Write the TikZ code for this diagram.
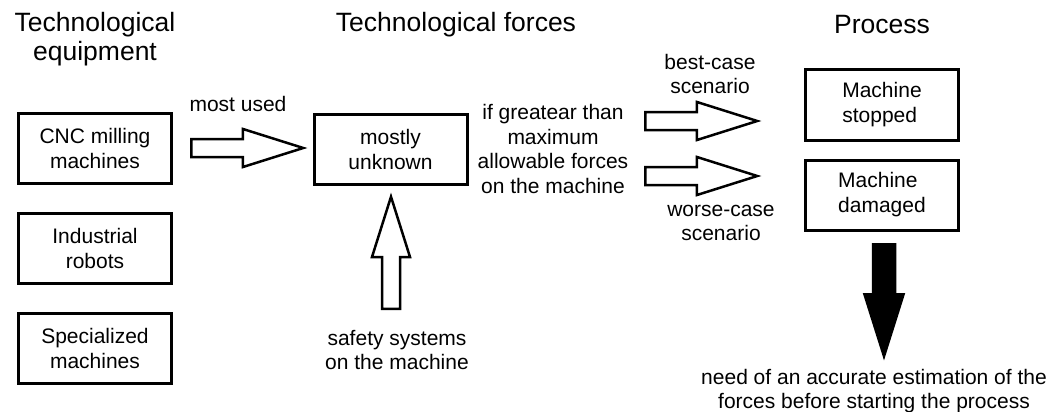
\documentclass[tikz,border=0pt]{standalone}
\usepackage{fontspec}
\setmainfont{Liberation Sans}
\usetikzlibrary{shapes.arrows}

\tikzset{
  box/.style={draw,line width=3pt,minimum width=153pt,minimum height=70pt,
    inner sep=2pt,align=center,font=\fontsize{21}{25}\selectfont},
  title/.style={align=center,font=\fontsize{26.5}{29}\selectfont},
  lbl/.style={align=center,font=\fontsize{21}{24.5}\selectfont},
  blockarrow/.style={single arrow,draw,line width=2.5pt,inner sep=0pt,
    text height=7.75pt,text depth=7.75pt,single arrow head extend=10pt,
    single arrow tip angle=35,minimum height=112pt,anchor=tail},
  needarrow/.style={blockarrow,fill=black,text height=9.75pt,text depth=9.75pt,
    single arrow head extend=8.5pt}
}

\begin{document}
\begin{tikzpicture}[x=1pt,y=-1pt]
  \def\colA{95}
  \def\colB{390.5}
  \def\colC{882}
  \useasboundingbox (0,0) rectangle (1053,412);

  % ================= equipment (left) =================
  \node[title] (ttlequip) at (\colA,39) {Technological\\equipment};
  \node[box] (cnc) at (\colA,148.5) {CNC milling\\machines};
  \node[box] (robots) at (\colA,248.5) {Industrial\\robots};
  \node[box] (special) at (\colA,348.5) {Specialized\\machines};

  % block arrows are placed by their tails
  \node[blockarrow] (usedarrow) at (190,148) {};
  \node[lbl] (used) at (238,104) {most used};

  % ================= forces (middle) =================
  \node[title] (ttlforces) at (456,25) {Technological forces};
  \node[box] (unknown) at (\colB,149) {mostly\\unknown};

  \node[blockarrow,rotate=90] (safearrow) at (391,310) {};
  \node[lbl] (safety) at (397,350) {safety systems\\on the machine};

  \node[lbl] (greater) at (553,149)
    {if greatear than\\maximum\\allowable forces\\on the machine};

  \node[blockarrow] (bestarrow) at (644,121) {};
  \node[lbl] (best) at (710,74) {best-case\\scenario};
  \node[blockarrow] (worsearrow) at (644,176) {};
  \node[lbl] (worse) at (721,223) {worse-case\\scenario};

  % ================= process (right) =================
  \node[title] (ttlprocess) at (\colC,25) {Process};
  \node[box,align=left] (stopped) at (\colC,105) {Machine\\stopped};
  \node[box,align=left] (damaged) at (\colC,195) {Machine\\damaged};

  \node[needarrow,rotate=-90] (estarrow) at (884,243) {};
  \node[lbl] (need) at (874,391)
    {need of an accurate estimation of the\\forces before starting the process};
\end{tikzpicture}
\end{document}
